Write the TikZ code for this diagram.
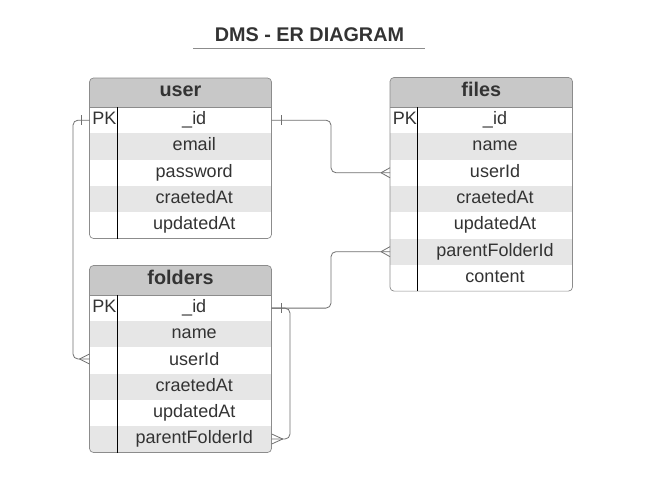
\documentclass[tikz,border=0pt]{standalone}
\usepackage{fontspec}
\setmainfont{Liberation Sans}
\usetikzlibrary{calc}
\definecolor{txt}{HTML}{333333}
\definecolor{hdrfill}{HTML}{C8C8C8}
\definecolor{rowshade}{HTML}{E6E6E6}
\definecolor{border}{HTML}{8C8C8C}
\definecolor{conncol}{HTML}{707070}
\tikzset{
  field/.style={minimum width=154.5pt, minimum height=26.3pt, inner sep=0pt, text height=13pt, text depth=4pt, text=txt, font=\fontsize{18}{18}\selectfont},
  keycell/.style={minimum width=27.5pt, minimum height=26.3pt, inner sep=0pt, text height=13pt, text depth=4pt, anchor=west, text=txt, font=\fontsize{18}{18}\selectfont},
  hdr/.style={inner sep=0pt, text height=14.5pt, text depth=4pt, text=txt, font=\fontsize{19.8}{19.8}\selectfont\bfseries},
  conn/.style={draw=conncol, line width=0.8pt, rounded corners=5pt},
  tickmark/.style={draw=conncol, line width=0.8pt},
  tborder/.style={draw=border, line width=0.7pt, rounded corners=4pt},
}
\begin{document}
\begin{tikzpicture}[x=1pt, y=-1pt]
\useasboundingbox (0,0) rectangle (655,501);
\fill[white] (0,0) rectangle (655,501);
% title
\node[hdr] (title) at (309.5,36) {DMS - ER DIAGRAM};
\draw[draw=border, line width=0.6pt] (193,48) -- (425,48);

% ---------- user ----------
\begin{scope}
\clip[rounded corners=4pt] (89.5,78) rectangle (271.5,238.5);
\fill[hdrfill] (89.5,78) rectangle (271.5,107);
\fill[rowshade] (89.5,133.3) rectangle (271.5,159.6);
\fill[rowshade] (89.5,185.9) rectangle (271.5,212.2);
\end{scope}
\draw[tborder] (89.5,78) rectangle (271.5,238.5);
\draw[draw=border, line width=0.6pt] (89.5,107) -- (271.5,107);
\draw[black, line width=0.8pt] (117,107) -- (117,238.5);
\node[hdr] (uh) at (180.5,91.5) {user};
\node[keycell] (uk1) at (89.5,120.15) {\hspace*{2pt}PK\hfill};
\node[keycell] (uk3) at (89.5,172.75) {};
\node[field] (uid) at (194.25,120.15) {\_id};
\node[field] (uemail) at (194.25,146.45) {email};
\node[field] (upass) at (194.25,172.75) {password};
\node[field] (ucre) at (194.25,199.05) {craetedAt};
\node[field] (uupd) at (194.25,225.35) {updatedAt};

% ---------- files ----------
\begin{scope}
\clip[rounded corners=4pt] (390,77.5) rectangle (572.5,291.1);
\fill[hdrfill] (390,77.5) rectangle (572.5,107);
\fill[rowshade] (390,133.3) rectangle (572.5,159.6);
\fill[rowshade] (390,185.9) rectangle (572.5,212.2);
\fill[rowshade] (390,238.5) rectangle (572.5,264.8);
\end{scope}
\draw[tborder] (390,77.5) rectangle (572.5,291.1);
\draw[draw=border, line width=0.6pt] (390,107) -- (572.5,107);
\draw[black, line width=0.8pt] (417.5,107) -- (417.5,291.1);
\node[hdr] (fh) at (481.25,91.5) {files};
\node[keycell] (fk1) at (390,120.15) {\hspace*{2pt}PK\hfill};
\node[keycell] (fk3) at (390,172.75) {};
\node[keycell] (fk6) at (390,251.65) {};
\node[field] (fid) at (495,120.15) {\_id};
\node[field] (fname) at (495,146.45) {name};
\node[field] (fuser) at (495,172.75) {userId};
\node[field] (fcre) at (495,199.05) {craetedAt};
\node[field] (fupd) at (495,225.35) {updatedAt};
\node[field] (fpar) at (495,251.65) {parentFolderId};
\node[field] (fcont) at (495,277.95) {content};

% ---------- folders ----------
\begin{scope}
\clip[rounded corners=4pt] (89.5,265.5) rectangle (271.5,452.5);
\fill[hdrfill] (89.5,265.5) rectangle (271.5,295);
\fill[rowshade] (89.5,321.2) rectangle (271.5,347.4);
\fill[rowshade] (89.5,373.6) rectangle (271.5,399.8);
\fill[rowshade] (89.5,426) rectangle (271.5,452.5);
\end{scope}
\draw[tborder] (89.5,265.5) rectangle (271.5,452.5);
\draw[draw=border, line width=0.6pt] (89.5,295) -- (271.5,295);
\draw[black, line width=0.8pt] (117,295) -- (117,452.5);
\node[hdr] (dh) at (180.5,279) {folders};
\node[keycell] (dk1) at (89.5,308.1) {\hspace*{2pt}PK\hfill};
\node[keycell] (dk3) at (89.5,359) {};
\node[field] (did) at (194.25,308.1) {\_id};
\node[field] (dname) at (194.25,334.3) {name};
\node[field] (duser) at (194.25,360.5) {userId};
\node[field] (dcre) at (194.25,386.7) {craetedAt};
\node[field] (dupd) at (194.25,412.9) {updatedAt};
\node[field] (dpar) at (194.25,439) {parentFolderId};

% ---------- connectors ----------
\coordinate (j1) at (331,0);
\coordinate (j2) at (290,0);
\coordinate (j3) at (73,0);
% user._id -> files.userId
\draw[conn] (uid.east) -- (uid.east -| j1) -- (fk3.west -| j1) -- (fk3.west);
\draw[tickmark] ($(uid.east)+(10,-5)$) -- ($(uid.east)+(10,5)$);
\draw[tickmark] ($(fk3.west)+(-9,0)$) -- ($(fk3.west)+(0,-5)$);
\draw[tickmark] ($(fk3.west)+(-9,0)$) -- ($(fk3.west)+(0,5)$);
% folders._id -> files.parentFolderId
\draw[conn] (did.east) -- (did.east -| j1) -- (fk6.west -| j1) -- (fk6.west);
\draw[tickmark] ($(did.east)+(10,-5)$) -- ($(did.east)+(10,5)$);
\draw[tickmark] ($(fk6.west)+(-9,0)$) -- ($(fk6.west)+(0,-5)$);
\draw[tickmark] ($(fk6.west)+(-9,0)$) -- ($(fk6.west)+(0,5)$);
% folders._id -> folders.parentFolderId
\draw[conn] (did.east) -- (did.east -| j2) -- (dpar.east -| j2) -- (dpar.east);
\draw[tickmark] ($(dpar.east)+(11,0)$) -- ($(dpar.east)+(0,-5)$);
\draw[tickmark] ($(dpar.east)+(11,0)$) -- ($(dpar.east)+(0,5)$);
% user._id -> folders.userId
\draw[conn] (uk1.west) -- (uk1.west -| j3) -- (dk3.west -| j3) -- (dk3.west);
\draw[tickmark] ($(uk1.west)+(-8,-5)$) -- ($(uk1.west)+(-8,5)$);
\draw[tickmark] ($(dk3.west)+(-10,0)$) -- ($(dk3.west)+(0,-5)$);
\draw[tickmark] ($(dk3.west)+(-10,0)$) -- ($(dk3.west)+(0,5)$);
\end{tikzpicture}
\end{document}
